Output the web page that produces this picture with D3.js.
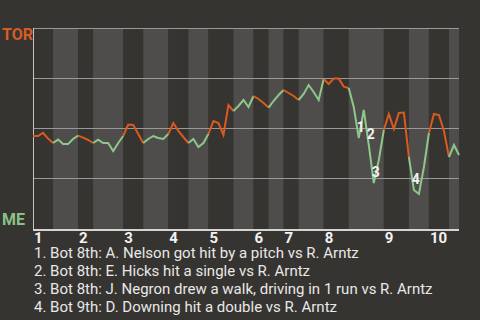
<!DOCTYPE html>
<html>
<head>
<meta charset="utf-8">
<script src="https://cdn.jsdelivr.net/npm/d3@7"></script>
<style>
  html, body { margin: 0; padding: 0; background: #363430; }
  svg { display: block; font-family: Roboto, "Noto Sans", sans-serif; }
</style>
</head>
<body>
<div id="chart"></div>
<script>
// plate appearances per half inning (top, bottom, top, bottom, ...)
const halfInningPAs = [4, 5, 3, 6, 4, 5, 4, 4, 5, 4, 3, 3, 3, 5, 5, 7, 5, 4, 4, 2];
const inningLabels = ['1', '2', '3', '4', '5', '6', '7', '8', '9', '10'];

// home (ME) win probability, %, after each plate appearance
const meWinProb = [
  54, 54, 52.4, 55.3, 57.5, 55.8, 58, 58, 55.5, 53.8,
  54.8, 56, 57.5, 55.8, 57.5, 57.5, 61.5, 57.5, 54, 48.3,
  48.5, 53, 57.5, 55.5, 54, 55, 55.5, 53, 47.5, 51.5,
  54.5, 57.5, 55.5, 59.5, 57.5, 53, 46.5, 47.5, 53.5, 38.5,
  41.5, 39, 36, 39.5, 34, 35.5, 37.5, 39.8, 36.5, 33.5,
  31, 32.5, 34, 36, 33, 28.5, 32, 36, 25.5, 28,
  25.3, 25.3, 29.3, 30, 39.5, 55, 41, 58.5, 77.5, 66,
  51, 43, 50.5, 42.5, 42.3, 64.5, 81, 83, 69.5, 52.5,
  43, 43.5, 51.5, 64.5, 58.5, 63.5
];

const eventLabels = ['1', '2', '3', '4'];
const eventIndex = [65, 67, 68, 76];
const eventText = [
  '1. Bot 8th: A. Nelson got hit by a pitch vs R. Arntz',
  '2. Bot 8th: E. Hicks hit a single vs R. Arntz',
  '3. Bot 8th: J. Negron drew a walk, driving in 1 run vs R. Arntz',
  '4. Bot 9th: D. Downing hit a double vs R. Arntz'
];

const teams = ['TOR', 'ME'];

const width = 480, height = 320;
const margin = { top: 28, right: 21, bottom: 92, left: 33 };
const colors = { top: '#da5a1f', bottom: '#8fc78b' };

const svg = d3.select('#chart').append('svg')
  .attr('width', width)
  .attr('height', height);

svg.append('rect').attr('width', width).attr('height', height).attr('fill', '#363430');

const x = d3.scaleLinear()
  .domain([0, meWinProb.length - 1])
  .range([margin.left, width - margin.right]);

const y = d3.scaleLinear()
  .domain([0, 100])
  .range([margin.top, height - margin.bottom]);

// half inning boundaries in PA index
const bounds = [0];
halfInningPAs.forEach(n => bounds.push(bounds[bounds.length - 1] + n));
const halves = halfInningPAs.map((n, i) => ({ start: bounds[i], end: bounds[i + 1], top: i % 2 === 0 }));

// bands
svg.append('g').selectAll('rect')
  .data(halves)
  .join('rect')
  .attr('x', d => x(d.start))
  .attr('width', d => x(d.end) - x(d.start))
  .attr('y', y(0))
  .attr('height', y(100) - y(0) + 1)
  .attr('fill', d => d.top ? '#363430' : '#4e4d4b');

// gridlines
svg.append('g').selectAll('line')
  .data([0, 25, 50, 75])
  .join('line')
  .attr('x1', x(0))
  .attr('x2', x(meWinProb.length - 1))
  .attr('y1', d => Math.round(y(d)) + 0.5)
  .attr('y2', d => Math.round(y(d)) + 0.5)
  .attr('stroke', '#9a9997')
  .attr('stroke-width', 1);

// axes
svg.append('line')
  .attr('x1', x(0) + 0.5).attr('x2', x(0) + 0.5)
  .attr('y1', y(0)).attr('y2', y(100) + 2)
  .attr('stroke', '#c4c3c1');
svg.append('line')
  .attr('x1', x(0)).attr('x2', x(meWinProb.length - 1))
  .attr('y1', y(100) + 2).attr('y2', y(100) + 2)
  .attr('stroke', '#d6d5d3')
  .attr('stroke-width', 2);

// win probability line, colored by half inning
const line = d3.line()
  .x(i => x(i))
  .y(i => y(meWinProb[i]));

svg.append('g').selectAll('path')
  .data(halves)
  .join('path')
  .attr('d', d => line(d3.range(d.start, d.end + 1)))
  .attr('fill', 'none')
  .attr('stroke', d => d.top ? colors.top : colors.bottom)
  .attr('stroke-width', 2)
  .attr('stroke-linejoin', 'miter');

// event markers
svg.append('g').selectAll('text')
  .data(eventIndex)
  .join('text')
  .attr('x', d => x(d) + 2)
  .attr('y', d => y(meWinProb[d]) - 6)
  .attr('text-anchor', 'middle')
  .attr('fill', '#f2f2f2')
  .style('font-size', '14px')
  .style('font-weight', 'bold')
  .text((d, i) => eventLabels[i]);

// team labels
svg.append('text')
  .attr('x', 2).attr('y', y(0) + 12)
  .attr('fill', '#d65c27')
  .style('font-size', '16px').style('font-weight', 'bold')
  .text(teams[0]);
svg.append('text')
  .attr('x', 2).attr('y', y(100) - 3)
  .attr('fill', '#8dc088')
  .style('font-size', '16px').style('font-weight', 'bold')
  .text(teams[1]);

// inning labels
svg.append('g').selectAll('text')
  .data(inningLabels)
  .join('text')
  .attr('x', (d, i) => x(bounds[i * 2]) + 1)
  .attr('y', y(100) + 15)
  .attr('fill', '#f2f2f2')
  .style('font-size', '15px')
  .style('font-weight', 'bold')
  .text(d => d);

// event descriptions
svg.append('g').selectAll('text')
  .data(eventText)
  .join('text')
  .attr('x', 34)
  .attr('y', (d, i) => 258 + i * 18)
  .attr('fill', '#e8e8e8')
  .style('font-size', '15px')
  .text(d => d);
</script>
</body>
</html>
